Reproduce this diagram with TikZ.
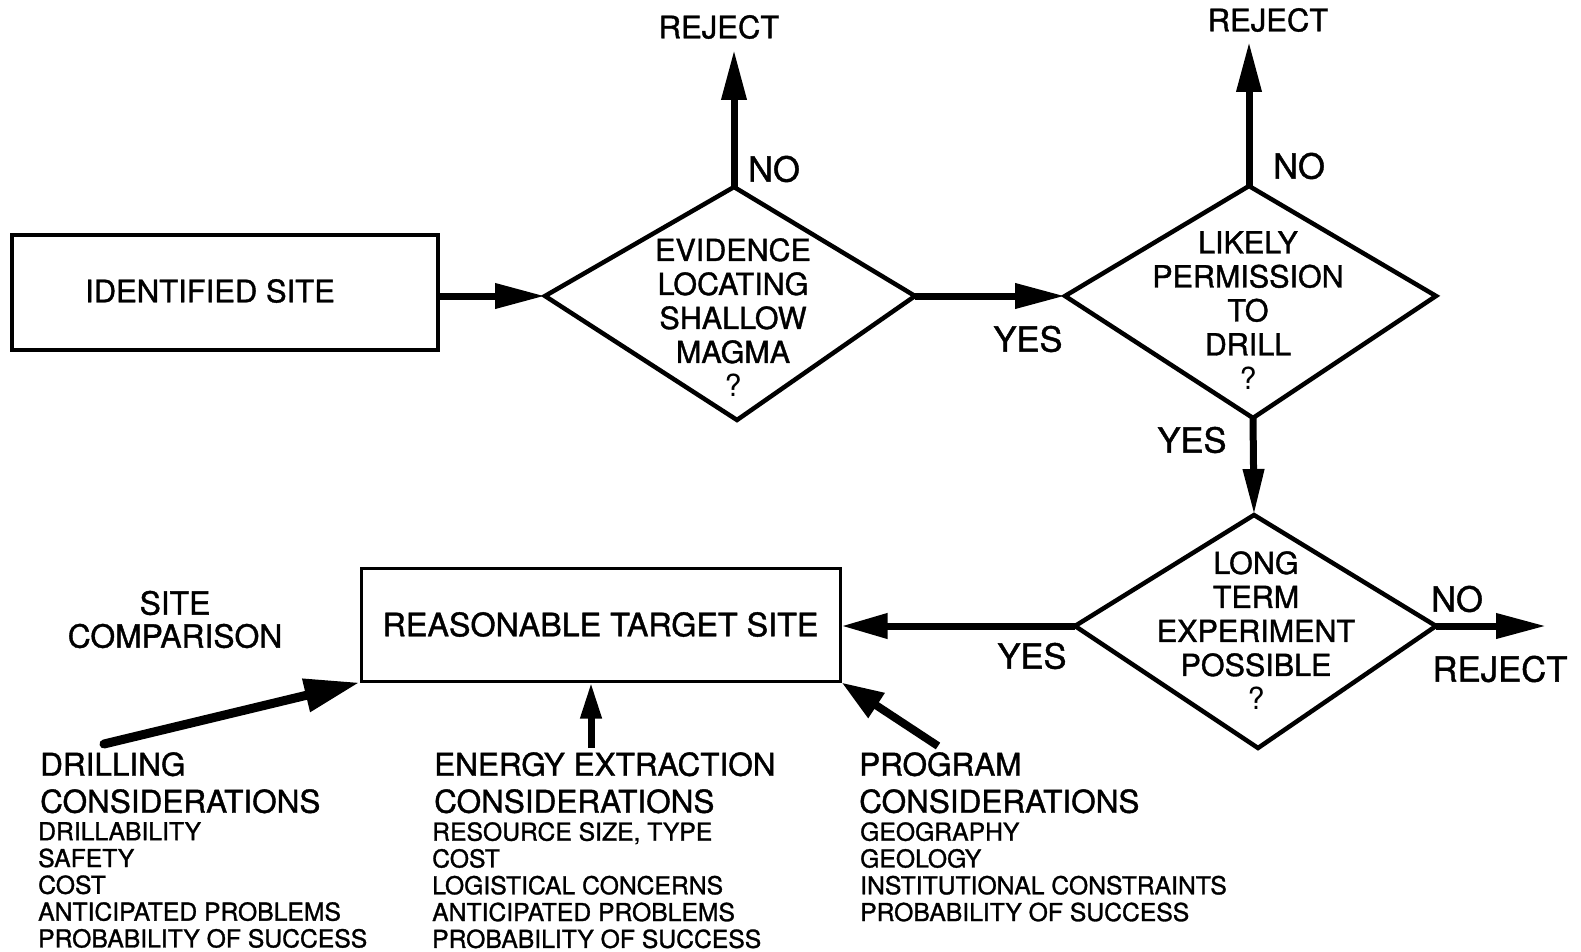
\documentclass[tikz,border=0pt]{standalone}
\usepackage{fontspec}
\setmainfont{TeX Gyre Heros}[FakeBold=1.2]
\newfontfamily\qfont{TeX Gyre Heros}
\usetikzlibrary{arrows.meta}
\begin{document}
\begin{tikzpicture}[x=1pt,y=-1pt,
  arr/.style={line width=7pt,-{Triangle[length=50pt,width=24pt]}},
  boxx/.style={draw,line width=3.5pt,inner sep=0pt},
  dia/.style={draw,line width=4.5pt,line join=miter},
  lbl/.style={inner sep=0pt,font=\fontsize{34.5}{38}\selectfont},
  rej/.style={inner sep=0pt,font=\fontsize{31}{34}\selectfont},
  dtext/.style={inner sep=0pt,anchor=north,align=center,font=\fontsize{30.5}{34}\selectfont},
  head/.style={inner sep=0pt,anchor=north west,align=left,font=\fontsize{31.5}{37}\selectfont},
  items/.style={inner sep=0pt,anchor=north west,align=left,font=\fontsize{24.7}{26.8}\selectfont}]
\useasboundingbox (0,0) rectangle (1581,952);
% boxes
\node[boxx,minimum width=426pt,minimum height=115pt] (box1) at (225,292.5) {};
\node[inner sep=0pt,font=\fontsize{31}{34}\selectfont] (box1t) at (210,291) {IDENTIFIED SITE};
\node[boxx,line width=3pt,minimum width=479pt,minimum height=113pt,font=\fontsize{32.3}{36}\selectfont] (box2) at (600.5,624.5) {REASONABLE TARGET SITE};
% diamonds
\coordinate (d1n) at (734,187);
\coordinate (d1w) at (545,296);
\coordinate (d1e) at (915,296);
\coordinate (d1s) at (737,420);
\draw[dia] (d1n) -- (d1e) -- (d1s) -- (d1w) -- cycle;
\node[dtext] (d1t) at (733,238) {EVIDENCE\\LOCATING\\SHALLOW\\MAGMA\\{\qfont ?}};
\coordinate (d2n) at (1249,186);
\coordinate (d2w) at (1065,296);
\coordinate (d2e) at (1436,296);
\coordinate (d2s) at (1253,418);
\draw[dia] (d2n) -- (d2e) -- (d2s) -- (d2w) -- cycle;
\node[dtext] (d2t) at (1248,231) {LIKELY\\PERMISSION\\TO\\DRILL\\{\qfont ?}};
\coordinate (d3n) at (1254,515);
\coordinate (d3w) at (1075,626);
\coordinate (d3e) at (1436,626);
\coordinate (d3s) at (1258,748);
\draw[dia] (d3n) -- (d3e) -- (d3s) -- (d3w) -- cycle;
\node[dtext] (d3t) at (1256,551) {LONG\\TERM\\EXPERIMENT\\POSSIBLE\\{\qfont ?}};
% reject ends
\coordinate (r1) at (734,50);
\coordinate (r2) at (1249,42);
\coordinate (r3) at (1546,626);
\node[rej] (rej1) at (719,27) {REJECT};
\node[rej] (rej2) at (1268,20) {REJECT};
\node[rej,font=\fontsize{34.7}{38}\selectfont] (rej3) at (1500,669) {REJECT};
\node[lbl] (no1) at (774,169) {NO};
\node[lbl] (no2) at (1299,166) {NO};
\node[lbl] (no3) at (1457,599) {NO};
\node[lbl] (yes1) at (1028,339) {YES};
\node[lbl] (yes2) at (1192,440) {YES};
\node[lbl] (yes3) at (1032,656) {YES};
% main arrows
\draw[arr] (box1.east |- d1w) -- (d1w);
\draw[arr] (d1n) -- (r1);
\draw[arr] (d1e) -- (d2w);
\draw[arr] (d2n) -- (r2);
\draw[arr,-{Triangle[length=46pt,width=20pt]}] (d2s) -- (d3n);
\draw[arr] (d3e) -- (r3);
\draw[arr,-{Triangle[length=46pt,width=24pt]}] (d3w) -- (d3w -| box2.east);
% site comparison
\node[inner sep=0pt,align=center,font=\fontsize{31.8}{33}\selectfont] (sc) at (175,619.5) {SITE\\COMPARISON};
% considerations
\coordinate (drt) at (104,744);
\coordinate (ent) at (591,748);
\coordinate (prt) at (938,746);
\draw[line width=9pt,line cap=round,-{Triangle[length=55pt,width=32pt]}] (drt) -- (box2.south west);
\draw[line width=7pt,-{Triangle[length=36pt,width=20pt]}] (ent) -- ([xshift=-9.5pt]box2.south);
\draw[line width=8pt,-{Triangle[length=42pt,width=28pt]}] (prt) -- (box2.south east);
\node[head] (drh) at (40,752) {DRILLING\\CONSIDERATIONS};
\node[items] (dri) at (38,822) {DRILLABILITY\\SAFETY\\COST\\ANTICIPATED PROBLEMS\\PROBABILITY OF SUCCESS};
\node[head] (enh) at (434,752) {ENERGY EXTRACTION\\CONSIDERATIONS};
\node[items] (eni) at (432,822) {RESOURCE SIZE, TYPE\\COST\\LOGISTICAL CONCERNS\\ANTICIPATED PROBLEMS\\PROBABILITY OF SUCCESS};
\node[head] (prh) at (859,752) {PROGRAM\\CONSIDERATIONS};
\node[items] (pri) at (860,822) {GEOGRAPHY\\GEOLOGY\\INSTITUTIONAL CONSTRAINTS\\PROBABILITY OF SUCCESS};
\end{tikzpicture}
\end{document}
